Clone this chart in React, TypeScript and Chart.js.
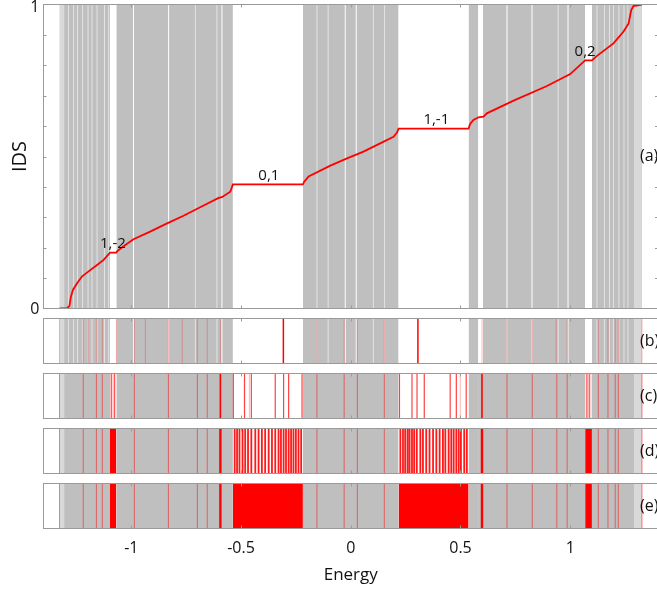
import React, { useEffect, useRef } from 'react';
import { Chart, registerables } from 'chart.js';

Chart.register(...registerables);

// ---- axes ----
const energyMin = -1.4;
const energyMax = 1.4;
const energyTicks = [-1, -0.5, 0, 0.5, 1];
const idsTicks = [0, 1];
const idsMinorTicks = [0.1, 0.2, 0.3, 0.4, 0.5, 0.6, 0.7, 0.8, 0.9];
const panelLetters = ['(a)', '(b)', '(c)', '(d)', '(e)'];

// ---- integrated density of states ----
const idsEnergy = [
  -1.327, -1.293, -1.282, -1.275, -1.266, -1.247, -1.225, -1.202, -1.156, -1.126,
  -1.097, -1.068, -1.062, -1.027, -0.99, -0.914, -0.837, -0.762, -0.686, -0.602,
  -0.587, -0.549, -0.537, -0.218, -0.212, -0.192, -0.093, -0.017, 0.058, 0.134,
  0.195, 0.21, 0.218, 0.537, 0.544, 0.559, 0.582, 0.605, 0.62, 0.742,
  0.894, 1.0, 1.068, 1.099, 1.122, 1.197, 1.243, 1.266, 1.278, 1.288, 1.327,
];
const idsValue = [
  0, 0.001, 0.008, 0.039, 0.061, 0.083, 0.105, 0.118, 0.143, 0.16,
  0.184, 0.184, 0.19, 0.209, 0.228, 0.253, 0.28, 0.305, 0.333, 0.364,
  0.366, 0.384, 0.408, 0.408, 0.417, 0.434, 0.47, 0.494, 0.516, 0.543,
  0.565, 0.578, 0.592, 0.592, 0.607, 0.62, 0.629, 0.631, 0.642, 0.684,
  0.732, 0.771, 0.816, 0.816, 0.831, 0.872, 0.911, 0.938, 0.982, 0.995, 1.0,
];

// ---- gap labels (m,n) at the plateaus ----
const gapLabels = ['1,-2', '0,1', '1,-1', '0,2'];
const gapEnergy = [-1.084, -0.373, 0.39, 1.068];
const gapIDS = [0.184, 0.408, 0.592, 0.816];

// ---- spectrum bands ----
const bandFrom = [-1.327, -1.068, -0.218, 0.537, 0.602, 1.099];
const bandTo = [-1.097, -0.537, 0.218, 0.581, 1.068, 1.327];
const paleFrom = [-1.327, 1.29];
const paleTo = [-1.304, 1.327];
// narrow gap that is filled in the lower panels
const narrowGapFrom = [0.58];
const narrowGapTo = [0.603];

// fine structure inside the bands
const whiteLines = [-0.99, -0.83, -0.587, -0.025, 0.025, 0.712, 0.826, 0.99];
const paleLines = [
  -1.286, -1.263, -1.245, -1.222, -1.197, -1.179, -1.156, -1.122, -1.103,
  -0.708, -0.61, -0.154, -0.103, 0.103, 0.154, 0.945,
  1.122, 1.156, 1.179, 1.197, 1.222, 1.245, 1.263,
];

// ---- (b) ----
const pinkLinesB = [
  -1.327, -1.219, -1.196, -1.159, -1.132, -1.068, -0.986, -0.936, -0.831, -0.768,
  -0.699, -0.654, -0.594, -0.154, -0.03, 0.03, 0.153, 0.598, 0.712, 0.827,
  0.936, 0.986, 1.128, 1.172, 1.205, 1.219, 1.327,
];
const redLinesB = [-0.307, 0.306];

// ---- (c), (d), (e) shared in-band states ----
const bandRed = [
  -1.327, -1.219, -1.159, -1.132, -0.986, -0.831, -0.699, -0.654, -0.154, -0.03,
  0.03, 0.153, 0.712, 0.827, 0.939, 0.986, 1.128, 1.172, 1.205, 1.219, 1.327,
];
const strongRed = [-0.594, 0.598];
const smallGapFrom = [-1.097, 1.068];
const smallGapTo = [-1.068, 1.099];

// ---- (c) ----
const smallGapLinesC = [-1.091, -1.077, 1.076, 1.087];
const gapLinesC = [
  -0.535, -0.484, -0.453, -0.344, -0.306, -0.283, -0.222,
  0.222, 0.279, 0.302, 0.335, 0.453, 0.481, 0.526,
];
const gapPaleC = [-0.462, 0.499];

// ---- (d) ----
const gapLinesD = [
  -0.529, -0.518, -0.507, -0.493, -0.481, -0.468, -0.453, -0.435, -0.42, -0.405,
  -0.39, -0.374, -0.359, -0.344, -0.329, -0.318, -0.306, -0.295, -0.283, -0.272,
  -0.261, -0.25, -0.238, -0.226,
  0.226, 0.238, 0.248, 0.259, 0.268, 0.279, 0.289, 0.301, 0.317, 0.329,
  0.344, 0.359, 0.375, 0.39, 0.405, 0.42, 0.431, 0.446, 0.458, 0.469,
  0.481, 0.492, 0.502, 0.517, 0.529,
];

// ---- (e) ----
const bigGapFrom = [-0.537, 0.218];
const bigGapTo = [-0.218, 0.537];

// ---- styling ----
const FONT = '"Open Sans", "DejaVu Sans", sans-serif';
const GRAY = '#bfbfbf';
const PALE = '#d9d9d9';
const RED = '#ff0000';

type Pt = { x: number; y: number | null };

function vlinePoints(energies: number[]): Pt[] {
  const pts: Pt[] = [];
  for (const e of energies) {
    pts.push({ x: e, y: 0 }, { x: e, y: 1 }, { x: e, y: null });
  }
  return pts;
}

function lineSet(energies: number[], color: string, width: number, order: number) {
  return {
    type: 'line',
    data: vlinePoints(energies),
    borderColor: color,
    borderWidth: width,
    pointRadius: 0,
    spanGaps: false,
    fill: false,
    tension: 0,
    order,
  };
}

function blockSets(from: number[], to: number[], color: string, order: number) {
  return from.map((a, i) => ({
    type: 'line',
    data: [
      { x: a, y: 1 },
      { x: to[i], y: 1 },
    ],
    borderColor: 'rgba(0,0,0,0)',
    borderWidth: 0,
    backgroundColor: color,
    fill: 'start',
    pointRadius: 0,
    order,
  }));
}

const panelDeco = {
  id: 'panelDeco',
  afterDatasetsDraw(chart: any, _args: any, opts: any) {
    const { ctx, chartArea: a, scales } = chart;
    const xs = scales.x;
    const ys = scales.y;
    ctx.save();
    if (opts.isTop) {
      // plateau labels
      ctx.fillStyle = '#111';
      ctx.font = `15px ${FONT}`;
      ctx.textAlign = 'center';
      ctx.textBaseline = 'bottom';
      gapLabels.forEach((t, i) => {
        ctx.fillText(t, xs.getPixelForValue(gapEnergy[i]), ys.getPixelForValue(gapIDS[i]) - 1);
      });
      // IDS tick labels; the top one sits just inside the frame
      ctx.font = `16px ${FONT}`;
      ctx.textAlign = 'right';
      ctx.textBaseline = 'alphabetic';
      for (const v of idsTicks) {
        const py = ys.getPixelForValue(v);
        ctx.fillText(String(v), a.left - 4, v === ys.max ? py + 7.8 : py + 5.7);
      }
    }
    ctx.strokeStyle = '#9a9a9a';
    ctx.lineWidth = 1;
    ctx.strokeRect(a.left, a.top, a.right - a.left, a.bottom - a.top);
    ctx.beginPath();
    for (const t of energyTicks) {
      const px = Math.round(xs.getPixelForValue(t)) + 0.5;
      ctx.moveTo(px, a.bottom);
      ctx.lineTo(px, a.bottom - 3);
      ctx.moveTo(px, a.top);
      ctx.lineTo(px, a.top + 3);
    }
    if (opts.isTop) {
      for (const v of idsMinorTicks) {
        const py = Math.round(ys.getPixelForValue(v)) + 0.5;
        ctx.moveTo(a.left, py);
        ctx.lineTo(a.left + 3, py);
        ctx.moveTo(a.right, py);
        ctx.lineTo(a.right - 3, py);
      }
    }
    ctx.stroke();
    ctx.fillStyle = '#111';
    ctx.font = `16px ${FONT}`;
    ctx.textAlign = 'left';
    ctx.textBaseline = 'middle';
    ctx.fillText(opts.letter, 640, (a.top + a.bottom) / 2);
    ctx.restore();
  },
};

type Spec = {
  key: string;
  canvasTop: number;
  height: number;
  padTop: number;
  padBottom: number;
  datasets: any[];
  letter: string;
  kind: 'top' | 'mid' | 'bottom';
};

const WIDTH = 660;

function baseSpectrum(): any[] {
  return [
    ...blockSets(bandFrom, bandTo, GRAY, 20),
    ...blockSets(paleFrom, paleTo, PALE, 19),
  ];
}

function lowerSpectrum(): any[] {
  return [...baseSpectrum(), ...blockSets(narrowGapFrom, narrowGapTo, GRAY, 20)];
}

const specs: Spec[] = [
  {
    key: 'a',
    canvasTop: 0,
    height: 322,
    padTop: 4.5,
    padBottom: 13.5,
    letter: panelLetters[0],
    kind: 'top',
    datasets: [
      ...baseSpectrum(),
      lineSet(paleLines, '#e3e3e3', 1, 9),
      lineSet(whiteLines, '#ffffff', 1, 8),
      {
        type: 'line',
        data: idsEnergy.map((e, i) => ({ x: e, y: idsValue[i] })),
        borderColor: RED,
        borderWidth: 1.8,
        pointRadius: 0,
        fill: false,
        tension: 0,
        order: 0,
      },
    ],
  },
  {
    key: 'b',
    canvasTop: 314,
    height: 54,
    padTop: 4.5,
    padBottom: 4.5,
    letter: panelLetters[1],
    kind: 'mid',
    datasets: [
      ...baseSpectrum(),
      lineSet(paleLines, '#e3e3e3', 1, 9),
      lineSet(whiteLines, '#ffffff', 1, 8),
      lineSet(pinkLinesB, 'rgba(255,0,0,0.28)', 1, 6),
      lineSet(redLinesB, RED, 1.5, 5),
    ],
  },
  {
    key: 'c',
    canvasTop: 369,
    height: 54,
    padTop: 4.5,
    padBottom: 4.5,
    letter: panelLetters[2],
    kind: 'mid',
    datasets: [
      ...lowerSpectrum(),
      ...blockSets(smallGapFrom, smallGapTo, 'rgba(255,0,0,0.15)', 10),
      lineSet(bandRed, 'rgba(255,0,0,0.5)', 1, 7),
      lineSet(smallGapLinesC, 'rgba(255,0,0,0.7)', 1, 6),
      lineSet(gapPaleC, 'rgba(255,0,0,0.3)', 1, 6),
      lineSet(gapLinesC, 'rgba(255,0,0,0.75)', 1.2, 5),
      lineSet(strongRed, RED, 1.6, 4),
    ],
  },
  {
    key: 'd',
    canvasTop: 424,
    height: 54,
    padTop: 4.5,
    padBottom: 4.5,
    letter: panelLetters[3],
    kind: 'mid',
    datasets: [
      ...lowerSpectrum(),
      lineSet(bandRed, 'rgba(255,0,0,0.5)', 1, 7),
      ...blockSets(smallGapFrom, smallGapTo, RED, 6),
      lineSet(gapLinesD, 'rgba(255,0,0,0.9)', 1.8, 5),
      lineSet(strongRed, RED, 2.4, 4),
    ],
  },
  {
    key: 'e',
    canvasTop: 479,
    height: 114,
    padTop: 4.5,
    padBottom: 0,
    letter: panelLetters[4],
    kind: 'bottom',
    datasets: [
      ...lowerSpectrum(),
      lineSet(bandRed, 'rgba(255,0,0,0.5)', 1, 7),
      ...blockSets(smallGapFrom, smallGapTo, RED, 6),
      ...blockSets(bigGapFrom, bigGapTo, RED, 5),
      lineSet(strongRed, RED, 2.4, 4),
    ],
  },
];

function buildConfig(spec: Spec): any {
  const xScale: any = {
    type: 'linear',
    min: energyMin,
    max: energyMax,
    display: spec.kind === 'bottom',
    grid: { display: false, drawTicks: false },
    border: { display: false },
  };
  if (spec.kind === 'bottom') {
    xScale.afterBuildTicks = (scale: any) => {
      scale.ticks = energyTicks.map((v) => ({ value: v }));
    };
    xScale.afterFit = (scale: any) => {
      scale.height = 64.5;
      scale.paddingLeft = 0;
      scale.paddingRight = 0;
    };
    xScale.ticks = {
      color: '#111',
      font: { family: FONT, size: 16 },
      padding: 10,
      maxRotation: 0,
      autoSkip: false,
      callback: (v: number) => String(v),
    };
    xScale.title = {
      display: true,
      text: 'Energy',
      color: '#111',
      font: { family: FONT, size: 17 },
      padding: { top: 0, bottom: 8 },
    };
  }
  const yScale: any = {
    type: 'linear',
    min: 0,
    max: 1,
    display: spec.kind === 'top',
    grid: { display: false, drawTicks: false },
    border: { display: false },
  };
  if (spec.kind === 'top') {
    yScale.afterBuildTicks = (scale: any) => {
      scale.ticks = idsTicks.map((v) => ({ value: v }));
    };
    yScale.afterFit = (scale: any) => {
      scale.width = 43.5;
      scale.paddingTop = 0;
      scale.paddingBottom = 0;
    };
    yScale.ticks = { display: false };
    yScale.title = {
      display: true,
      text: 'IDS',
      color: '#111',
      font: { family: FONT, size: 20 },
      padding: { top: 8, bottom: 0 },
    };
  }
  return {
    type: 'line',
    data: { datasets: spec.datasets },
    plugins: [panelDeco],
    options: {
      responsive: false,
      animation: false,
      events: [],
      layout: {
        padding: {
          left: spec.kind === 'top' ? 0 : 43.5,
          right: 2,
          top: spec.padTop,
          bottom: spec.padBottom,
        },
      },
      scales: { x: xScale, y: yScale },
      plugins: {
        legend: { display: false },
        tooltip: { enabled: false },
        panelDeco: { letter: spec.letter, isTop: spec.kind === 'top' },
      },
    },
  };
}

function Panel({ spec }: { spec: Spec }) {
  const ref = useRef<HTMLCanvasElement>(null);
  useEffect(() => {
    const chart = new Chart(ref.current as HTMLCanvasElement, buildConfig(spec));
    return () => chart.destroy();
  }, [spec]);
  return (
    <canvas
      ref={ref}
      width={WIDTH}
      height={spec.height}
      style={{ position: 'absolute', left: 0, top: spec.canvasTop, width: WIDTH, height: spec.height }}
    />
  );
}

export default function App() {
  return (
    <div
      style={{
        position: 'absolute',
        left: 0,
        top: 0,
        width: 657,
        height: 593,
        overflow: 'hidden',
        background: '#ffffff',
      }}
    >
      {specs.map((s) => (
        <Panel key={s.key} spec={s} />
      ))}
    </div>
  );
}
